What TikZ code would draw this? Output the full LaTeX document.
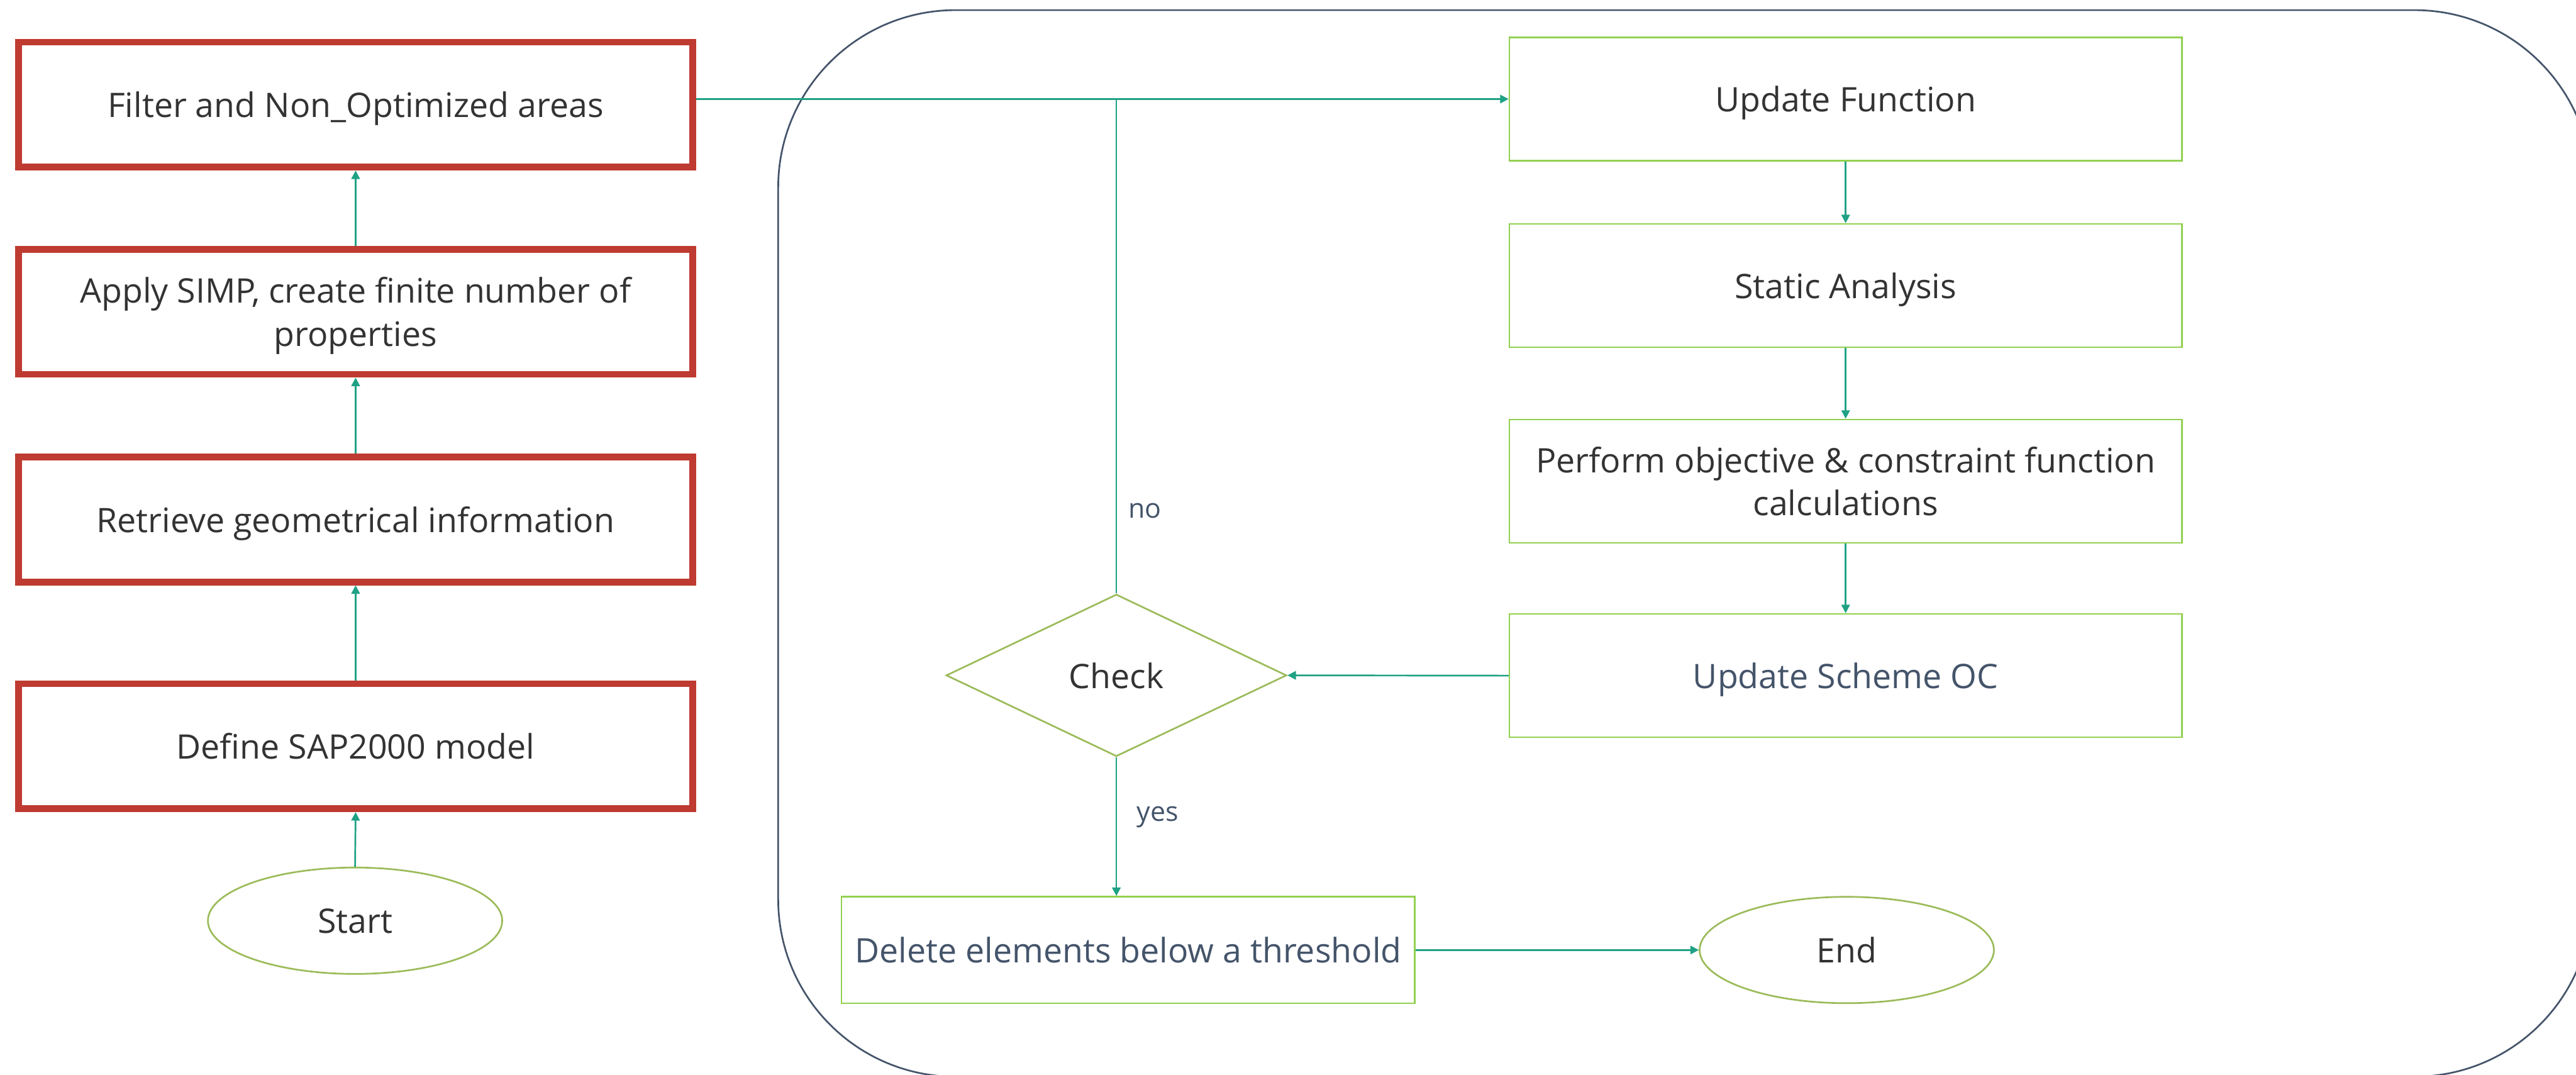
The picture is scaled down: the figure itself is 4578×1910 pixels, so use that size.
\documentclass[tikz,border=0pt]{standalone}
\usepackage{fontspec}
\setmainfont{Open Sans}
\usetikzlibrary{shapes.geometric,arrows.meta}
\definecolor{redb}{HTML}{BF3A30}
\definecolor{teal}{HTML}{1FA184}
\definecolor{lgreen}{HTML}{92D050}
\definecolor{olive}{HTML}{9BBB59}
\definecolor{slate}{HTML}{44546A}
\definecolor{txt}{HTML}{333333}
\begin{document}
\begin{tikzpicture}[x=1pt,y=-1pt,
  mainfont/.style={font=\fontsize{60}{77}\selectfont, text depth=0pt},
  redbox/.style={draw=redb, line width=12pt, minimum width=1198pt, minimum height=222pt, inner sep=0pt, align=center, text=txt, mainfont},
  greenbox/.style={draw=lgreen, line width=3pt, minimum width=1195pt, minimum height=219pt, inner sep=0pt, align=center, text=txt, mainfont},
  oval/.style={ellipse, draw=olive, line width=3pt, minimum width=523pt, minimum height=189pt, inner sep=0pt, text=txt, mainfont},
  decision/.style={diamond, draw=olive, line width=3pt, minimum width=605pt, minimum height=288pt, aspect=2.1, inner sep=0pt, text=txt, mainfont},
  lbl/.style={text=slate, font=\fontsize{48}{58}\selectfont, inner sep=0pt, anchor=west},
  arr/.style={draw=teal, line width=3pt, -{Triangle[length=15pt,width=15pt]}},
  conn/.style={draw=teal, line width=3pt},
  region/.style={draw=slate, line width=3pt, rounded corners=315pt}
]
\useasboundingbox (0,0) rectangle (4578,1910);
\clip (0,0) rectangle (4578,1910);
\fill[white] (0,0) rectangle (4578,1910);

% loop region
\draw[region] (1383,18) rectangle (4606,1913);

% left column
\node[redbox] (filter) at (632,186) {Filter and Non\_Optimized areas};
\node[redbox] (simp) at (632,554) {Apply SIMP, create finite number of\\properties};
\node[redbox] (geo) at (632,923) {Retrieve geometrical information};
\node[redbox] (sap) at (632,1326) {Define SAP2000 model};
\node[oval] (start) at (631,1636) {Start};

% right column
\node[greenbox] (uf) at (3280,176) {Update Function};
\node[greenbox] (sa) at (3280,507.5) {Static Analysis};
\node[greenbox] (perf) at (3280,855) {Perform objective \& constraint function\\calculations};
\node[greenbox, text=slate] (usoc) at (3280,1200.5) {Update Scheme OC};

% middle
\node[decision] (chk) at (1984,1200) {Check};
\node[draw=lgreen, line width=3pt, minimum width=1019pt, minimum height=189pt, inner sep=0pt, text=slate, mainfont] (del) at (2005,1688) {Delete elements below a threshold};
\node[oval] (end) at (3282,1688) {End};

% labels
\node[lbl] (no) at (2005,908) {no};
\node[lbl] (yes) at (2020,1452) {yes};

% connectors
\draw[arr] (start.north) -- (sap.south);
\draw[arr] (sap.north) -- (geo.south);
\draw[arr] (geo.north) -- (simp.south);
\draw[arr] (simp.north) -- (filter.south);
\draw[arr] (filter.east |- uf.west) -- (uf.west);
\draw[arr] (uf.south) -- (sa.north);
\draw[arr] (sa.south) -- (perf.north);
\draw[arr] (perf.south) -- (usoc.north);
\draw[arr] (usoc.west) -- (chk.east);
\coordinate (junc) at (chk.north |- uf.west);
\draw[conn] (chk.north) -- (junc);
\draw[arr] (chk.south) -- (chk.south |- del.north);
\draw[arr] (del.east) -- (end.west);
\end{tikzpicture}
\end{document}
